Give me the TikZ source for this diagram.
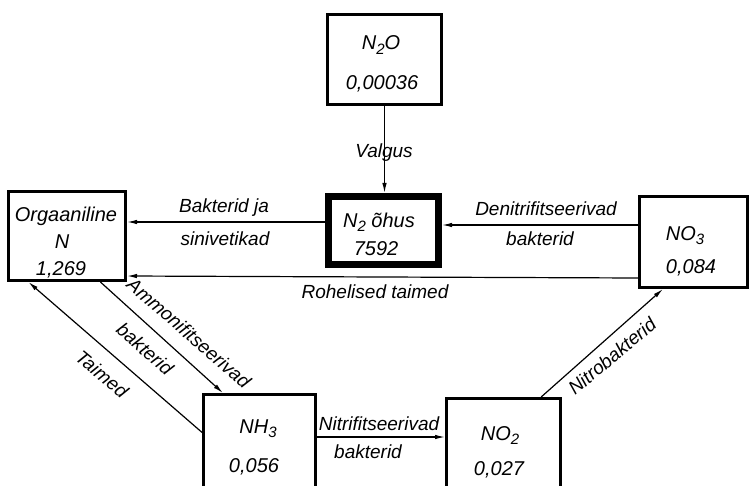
\documentclass[tikz,border=0pt]{standalone}
\usepackage{fontspec}
\setmainfont{Liberation Sans}
\usetikzlibrary{arrows.meta}
\newcommand{\chsub}[1]{\raisebox{-0.45ex}{\fontsize{15}{15}\selectfont #1}}
\begin{document}
\begin{tikzpicture}[x=1pt,y=1pt,
  box/.style={draw, line width=2.8pt, rectangle, inner sep=0pt},
  thickbox/.style={draw, line width=7pt, rectangle, inner sep=0pt},
  boxtxt/.style={font=\fontsize{20}{20}\selectfont\itshape, anchor=base, inner sep=0pt},
  lbl/.style={font=\fontsize{19}{19}\selectfont\itshape, inner sep=0pt},
  lblb/.style={lbl, anchor=base},
  conn/.style={line width=1.2pt},
  arr/.style={conn, -{Latex[length=10pt,width=4.5pt]}}]
\useasboundingbox (0,0) rectangle (751,-486);

% boxes
\node[box, minimum width=114.2pt, minimum height=90.2pt] (n2o) at (384.5,-59.5) {};
\node[thickbox, minimum width=110pt, minimum height=68pt] (n2) at (383.5,-230.5) {};
\node[box, minimum width=117.2pt, minimum height=89.2pt] (org) at (67,-236) {};
\node[box, minimum width=108.2pt, minimum height=91.2pt] (no3) at (693.5,-242) {};
\node[box, minimum width=112.2pt, minimum height=94.2pt] (nh3) at (259.5,-441.5) {};
\node[box, minimum width=114.2pt, minimum height=90.2pt] (no2) at (503.5,-443.5) {};

% box texts
\node[boxtxt] (n2oA) at (381,-50) {N\chsub{2}O};
\node[boxtxt] (n2oB) at (382,-90) {0,00036};
\node[boxtxt] (n2A) at (379,-227) {N\chsub{2} õhus};
\node[boxtxt] (n2B) at (376,-255) {7592};
\node[boxtxt] (orgA) at (66,-222) {Orgaaniline};
\node[boxtxt] (orgB) at (62,-248) {N};
\node[boxtxt] (orgC) at (61,-275) {1,269};
\node[boxtxt] (no3A) at (685,-240) {NO\chsub{3}};
\node[boxtxt] (no3B) at (691,-273) {0,084};
\node[boxtxt] (nh3A) at (258,-433) {NH\chsub{3}};
\node[boxtxt] (nh3B) at (254,-472) {0,056};
\node[boxtxt] (no2A) at (500,-440) {NO\chsub{2}};
\node[boxtxt] (no2B) at (499,-475) {0,027};

% connectors
\draw[arr] (n2o.south) -- (n2o.south |- n2.north);
\draw[arr] (n2.west |- 0,-222) -- (org.east |- 0,-222);
\draw[arr] (no3.west |- 0,-225) -- (n2.east |- 0,-225);
\draw[arr] (no3.west |- 0,-278) -- (org.east |- 0,-276);
\draw[arr] (org.-54) -- (nh3.127);
\draw[arr] (nh3.171) -- (org.-130);
\draw[arr] (nh3.east |- 0,-437) -- (no2.west |- 0,-437);
\draw[arr] (no2.51) -- (no3.-123);

% labels
\node[lblb] (lv) at (384,-158) {Valgus};
\node[lblb] (lb1) at (224,-212) {Bakterid ja};
\node[lblb] (lb2) at (225,-245) {sinivetikad};
\node[lblb] (ld1) at (546,-215) {Denitrifitseerivad};
\node[lblb] (ld2) at (540,-245) {bakterid};
\node[lblb] (lr) at (375,-298) {Rohelised taimed};
\node[lblb] (ln1) at (379,-430) {Nitrifitseerivad};
\node[lblb] (ln2) at (368,-458) {bakterid};
\node[lbl, rotate=-41] (la1) at (189,-333) {Ammonifitseerivad};
\node[lbl, rotate=-41] (la2) at (145,-349) {bakterid};
\node[lbl, rotate=-40] (lt) at (102,-374) {Taimed};
\node[lbl, rotate=40] (lnb) at (612,-356) {Nitrobakterid};
\end{tikzpicture}
\end{document}
